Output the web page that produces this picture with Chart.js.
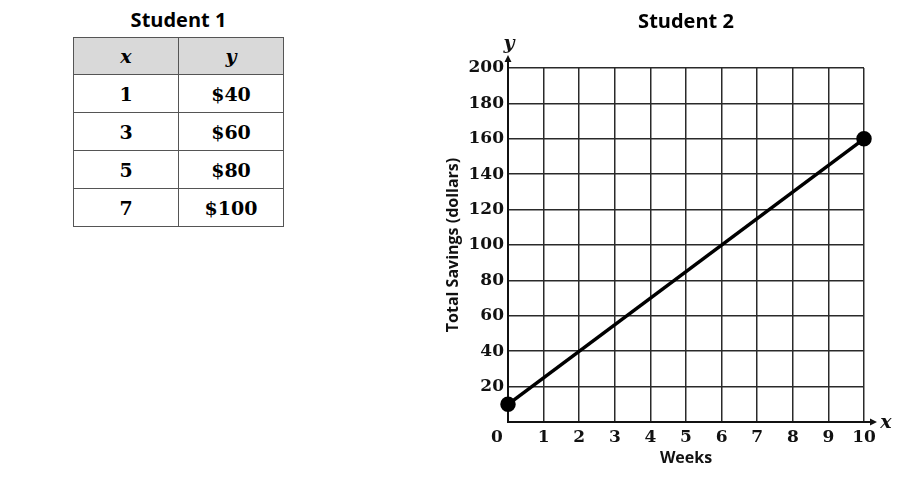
<!DOCTYPE html>
<html lang="en">
<head>
  <meta charset="UTF-8">
  <title>Student 1 and Student 2 savings</title>
  <script src="https://cdn.jsdelivr.net/npm/chart.js"></script>
  <style>
    body {
      margin: 0;
      width: 919px;
      height: 477px;
      background: #fff;
      position: relative;
      overflow: hidden;
    }
    .table-box {
      position: absolute;
      left: 73px;
      top: 6px;
      width: 211px;
    }
    .table-box h2 {
      margin: 0 0 3px 0;
      font-family: "Open Sans", "Liberation Sans", sans-serif;
      font-weight: bold;
      font-size: 20px;
      text-align: center;
      line-height: 28px;
    }
    table {
      border-collapse: collapse;
      width: 211px;
      font-family: "DejaVu Serif", "Liberation Serif", serif;
      font-weight: bold;
      font-size: 19px;
    }
    td, th {
      border: 1px solid #555;
      height: 37px;
      padding: 0;
      text-align: center;
      width: 50%;
    }
    th {
      height: 36px;
      background: #d9d9d9;
      font-style: italic;
      font-weight: bold;
    }
    .chart-box {
      position: absolute;
      left: 400px;
      top: 0;
      width: 519px;
      height: 477px;
    }
  </style>
</head>
<body>
  <div class="table-box">
    <h2>Student 1</h2>
    <table id="tbl">
      <thead><tr><th>x</th><th>y</th></tr></thead>
      <tbody></tbody>
    </table>
  </div>
  <div class="chart-box">
    <canvas id="lineChart"></canvas>
  </div>

  <script>
    // Student 1 table
    const tableX = [1, 3, 5, 7];
    const tableY = ['$40', '$60', '$80', '$100'];

    // Student 2 graph
    const chartTitle = 'Student 2';
    const weeks = [0, 10];
    const savings = [10, 160];
    const xTicks = [0, 1, 2, 3, 4, 5, 6, 7, 8, 9, 10];
    const yTicks = [0, 20, 40, 60, 80, 100, 120, 140, 160, 180, 200];

    const tbody = document.querySelector('#tbl tbody');
    tableX.forEach((x, i) => {
      const tr = document.createElement('tr');
      tr.innerHTML = '<td>' + x + '</td><td>' + tableY[i] + '</td>';
      tbody.appendChild(tr);
    });

    const serifFam = '"DejaVu Serif", "Liberation Serif", serif';
    const sansBold = '"Open Sans", "Liberation Sans", sans-serif';
    const tickFont = { family: serifFam, weight: 'bold', size: 17 };

    // title over the plot, arrows, axis letters and the shared "0"
    const axisExtras = {
      id: 'axisExtras',
      afterDraw(chart) {
        const c = chart.ctx;
        const area = chart.chartArea;
        const xs = chart.scales.x, ys = chart.scales.y;
        const x0 = xs.getPixelForValue(0), y0 = ys.getPixelForValue(0);
        const xEnd = xs.getPixelForValue(10), yTop = ys.getPixelForValue(200);
        c.save();
        c.fillStyle = '#000';
        c.textAlign = 'center';
        c.textBaseline = 'middle';
        c.font = 'bold 20px ' + sansBold;
        c.fillText(chartTitle, (area.left + area.right) / 2, 22);

        c.strokeStyle = '#111';
        c.fillStyle = '#111';
        c.lineWidth = 2;
        c.beginPath();
        c.moveTo(x0, yTop); c.lineTo(x0, yTop - 8);
        c.moveTo(xEnd, y0); c.lineTo(xEnd + 8, y0);
        c.stroke();
        c.beginPath();
        c.moveTo(x0, yTop - 13); c.lineTo(x0 - 3.5, yTop - 6); c.lineTo(x0 + 3.5, yTop - 6); c.closePath();
        c.moveTo(xEnd + 13, y0); c.lineTo(xEnd + 6, y0 - 3.5); c.lineTo(xEnd + 6, y0 + 3.5); c.closePath();
        c.fill();
        c.font = 'italic bold 19px ' + serifFam;
        c.fillText('y', x0 + 1, yTop - 24);
        c.fillText('x', xEnd + 22, y0 + 1);
        c.font = 'bold 17px ' + serifFam;
        c.fillText('0', x0 - 11, y0 + 16);
        c.restore();
      }
    };

    const ctx = document.getElementById('lineChart').getContext('2d');
    const chart = new Chart(ctx, {
      type: 'line',
      data: {
        datasets: [{
          data: weeks.map((w, i) => ({ x: w, y: savings[i] })),
          borderColor: '#000',
          backgroundColor: '#000',
          borderWidth: 3.5,
          pointRadius: 6,
          pointBackgroundColor: '#000',
          fill: false,
          clip: false
        }]
      },
      options: {
        responsive: true,
        maintainAspectRatio: false,
        animation: false,
        layout: { padding: { left: 44, right: 55, top: 68, bottom: 0 } },
        plugins: {
          legend: { display: false },
          tooltip: { enabled: false },
          title: { display: false }
        },
        scales: {
          x: {
            type: 'linear',
            min: 0,
            max: 10,
            afterBuildTicks: s => { s.ticks = xTicks.map(v => ({ value: v })); },
            afterFit: s => { s.height = 55; },
            grid: { color: '#2a2a2a', lineWidth: 1.5, drawTicks: false },
            border: { color: '#111', width: 2 },
            ticks: {
              color: '#111',
              font: tickFont,
              padding: 5,
              maxRotation: 0,
              callback: v => (v === 0 ? '' : v)
            },
            title: {
              display: true,
              text: 'Weeks',
              color: '#111',
              font: { family: sansBold, weight: 'bold', size: 16, lineHeight: 1.2 },
              padding: { top: 0, bottom: 9 }
            }
          },
          y: {
            type: 'linear',
            min: 0,
            max: 200,
            afterBuildTicks: s => { s.ticks = yTicks.map(v => ({ value: v })); },
            afterFit: s => { s.width = 64; },
            grid: { color: '#2a2a2a', lineWidth: 1.5, drawTicks: false },
            border: { color: '#111', width: 2 },
            ticks: {
              color: '#111',
              font: tickFont,
              padding: 4,
              callback: v => (v === 0 ? '' : v)
            },
            title: {
              display: true,
              text: 'Total Savings (dollars)',
              color: '#111',
              font: { family: sansBold, weight: 'bold', size: 16, lineHeight: 1.2 },
              padding: { top: 0, bottom: 0 }
            }
          }
        }
      },
      plugins: [axisExtras]
    });
  </script>
</body>
</html>
